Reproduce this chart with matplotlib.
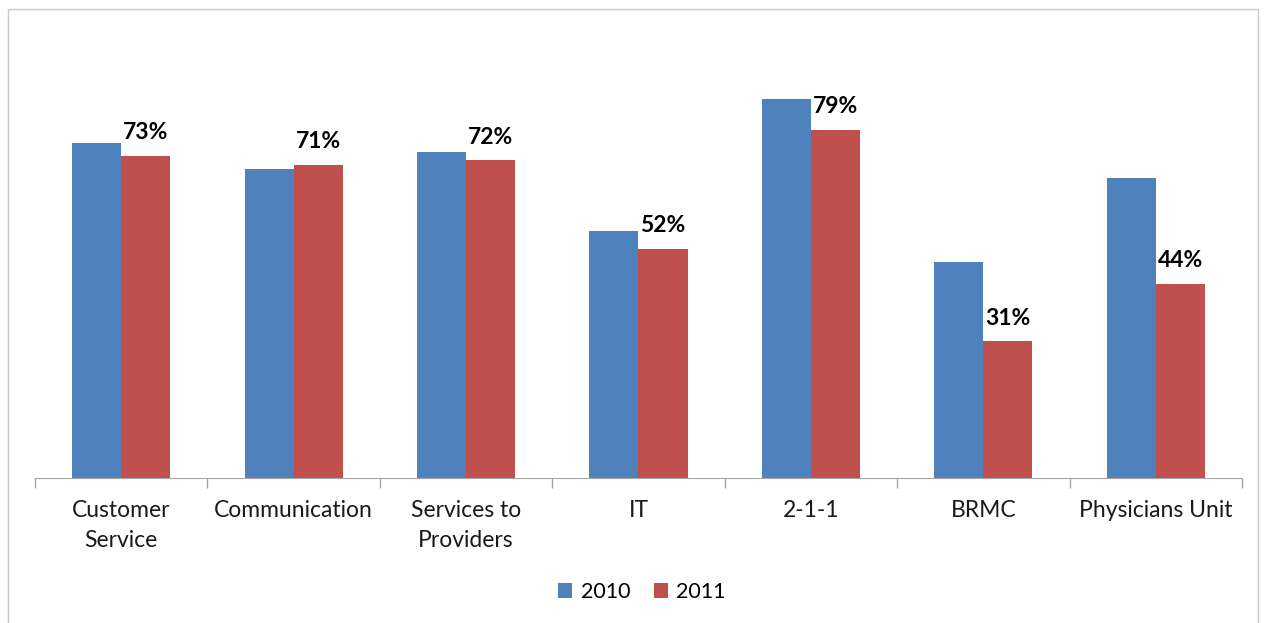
import matplotlib
matplotlib.use("Agg")
import matplotlib.pyplot as plt
import numpy as np
from matplotlib.patches import Rectangle

categories = ["Customer\nService", "Communication", "Services to\nProviders", "IT",
              "2-1-1", "BRMC", "Physicians Unit"]
vals_2010 = [76, 70, 74, 56, 86, 49, 68]
vals_2011 = [73, 71, 72, 52, 79, 31, 44]
series_names = ["2010", "2011"]

blue = "#4f81bd"
red = "#c0504d"
grey = "#a6a6a6"

plt.rcParams["font.family"] = ["Lato", "DejaVu Sans"]

W, H = 1266, 623
fig = plt.figure(figsize=(W / 100, H / 100), dpi=100)

# outer chart border
fig.patches.append(Rectangle((8 / W, -0.01), (1258 - 8) / W, 1 - 9 / H + 0.01,
                             transform=fig.transFigure, fill=False,
                             edgecolor="#c8c8c8", linewidth=1))

ax = fig.add_axes([35 / W, 1 - 478 / H, (1242 - 35) / W, 397 / H])
x = np.arange(len(categories))
bw = 0.285
b1 = ax.bar(x - bw / 2, vals_2010, bw, color=blue, label=series_names[0])
b2 = ax.bar(x + bw / 2, vals_2011, bw, color=red, label=series_names[1])

for rect, v in zip(b2, vals_2011):
    ax.annotate(f"{v}%", (rect.get_x() + rect.get_width() / 2, v),
                xytext=(0, 9), textcoords="offset points",
                ha="center", va="bottom", fontsize=16.5, fontweight="bold")

ax.set_xlim(-0.5, len(categories) - 0.5)
ax.set_ylim(0, 90)
for s in ["top", "right", "left"]:
    ax.spines[s].set_visible(False)
ax.spines["bottom"].set_color(grey)
ax.set_yticks([])

# boundary ticks between categories
ax.set_xticks(np.arange(len(categories) + 1) - 0.5)
ax.set_xticklabels([])
ax.tick_params(axis="x", length=7, color=grey, width=1)
ax.set_xticks(x, minor=True)
ax.set_xticklabels(categories, minor=True, fontsize=16.5, color="#1a1a1a", linespacing=1.5)
ax.tick_params(axis="x", which="minor", length=0, pad=16)

fig.legend(handles=[b1, b2], loc="center", bbox_to_anchor=(642 / W, 1 - 592 / H),
           ncol=2, frameon=False, fontsize=15.5, handlelength=0.65, handleheight=0.65,
           handletextpad=0.4, columnspacing=1.1)

fig.savefig("out.png", dpi=100)
